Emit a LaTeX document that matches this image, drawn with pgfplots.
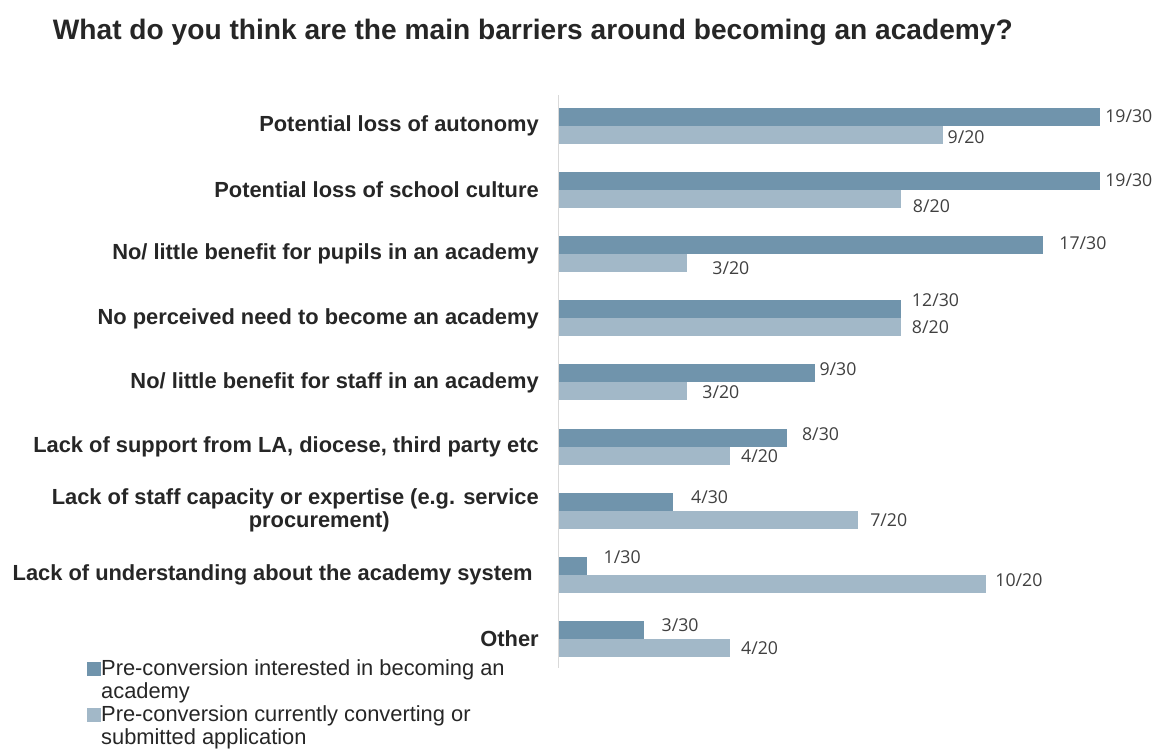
\documentclass[border=0pt]{standalone}
\usepackage{fontspec}
\setmainfont{Liberation Sans}
\newfontfamily\valfont{Open Sans}
\usepackage{pgfplots}
\pgfplotsset{compat=1.18}
\definecolor{darkbar}{HTML}{7094AC}
\definecolor{lightbar}{HTML}{A2B8C8}
\definecolor{txt}{HTML}{262626}
\definecolor{valtxt}{HTML}{404040}
\definecolor{axisgray}{HTML}{D9D9D9}

% one bar per \addplot so each value label can be nudged (xshift, yshift)
\pgfplotsset{
    dark/.style={fill=darkbar, draw=none, bar shift=6.75pt, forget plot},
    light/.style={fill=lightbar, draw=none, bar shift=-6.75pt, forget plot},
    lbl/.style 2 args={nodes near coords,
        every node near coord/.append style={xshift=#1, yshift=#2}},
}

\begin{document}
\begin{tikzpicture}
\begin{axis}[
    at={(419.25pt,60.75pt)}, anchor=south west,
    scale only axis,
    width=448.5pt, height=429.75pt,
    xbar, bar width=13.5pt,
    xmin=0, xmax=70,
    ymin=-0.453, ymax=8.484,
    axis x line=none,
    axis y line*=left,
    y axis line style={axisgray, line width=0.75pt},
    ytick={0,...,8},
    major tick length=0pt,
    yticklabels={
        Other,
        {Lack of understanding about the academy system\hspace*{4.5pt}},
        {Lack of staff capacity or expertise (e.g. service\\\hspace*{36pt}procurement)},
        {Lack of support from LA, diocese, third party etc},
        {No/ little benefit for staff in an academy},
        {No perceived need to become an academy},
        {No/ little benefit for pupils in an academy},
        {Potential loss of school culture},
        {Potential loss of autonomy}},
    yticklabel style={font=\fontsize{16.4}{17.25}\selectfont\bfseries, text=txt,
        align=center, inner sep=0pt, anchor=east, xshift=-15pt},
    point meta=explicit symbolic,
    every node near coord/.append style={font=\valfont\fontsize{13.3}{14}\selectfont,
        text=valtxt, anchor=west, inner sep=0pt},
    legend style={at={(-0.789,0.014)}, anchor=north west, draw=none, fill=none,
        inner sep=0pt, outer sep=0pt,
        font=\fontsize{16.4}{17.25}\selectfont, text=txt,
        row sep=1.25pt, column sep=0pt,
        nodes={inner sep=0pt, text height=12pt, text depth=4pt},
        /tikz/every even column/.append style={column sep=4pt}},
    legend cell align=left,
    legend image code/.code={\fill[#1] (0pt,-4pt) rectangle (10.5pt,6.5pt);},
]
% Pre-conversion interested in becoming an academy (n = 30), share in %
\addplot[dark, lbl={3.75pt}{0.75pt}]  coordinates {(63.33,8) [19/30]};
\addplot[dark, lbl={3.75pt}{0.75pt}]  coordinates {(63.33,7) [19/30]};
\addplot[dark, lbl={12pt}{1.5pt}]     coordinates {(56.67,6) [17/30]};
\addplot[dark, lbl={8.25pt}{6.75pt}]  coordinates {(40.00,5) [12/30]};
\addplot[dark, lbl={3pt}{3pt}]        coordinates {(30.00,4) [9/30]};
\addplot[dark, lbl={11.25pt}{2.25pt}] coordinates {(26.67,3) [8/30]};
\addplot[dark, lbl={13.5pt}{3.75pt}]  coordinates {(13.33,2) [4/30]};
\addplot[dark, lbl={12pt}{6.75pt}]    coordinates {(3.33,1) [1/30]};
\addplot[dark, lbl={12.75pt}{3.75pt}] coordinates {(10.00,0) [3/30]};
% Pre-conversion currently converting or submitted application (n = 20)
\addplot[light, lbl={3pt}{-1.5pt}]    coordinates {(45,8) [9/20]};
\addplot[light, lbl={9pt}{-5.25pt}]   coordinates {(40,7) [8/20]};
\addplot[light, lbl={18.75pt}{-3.75pt}] coordinates {(15,6) [3/20]};
\addplot[light, lbl={8.25pt}{0pt}]    coordinates {(40,5) [8/20]};
\addplot[light, lbl={11.25pt}{-0.75pt}] coordinates {(15,4) [3/20]};
\addplot[light, lbl={8.25pt}{-0.75pt}] coordinates {(20,3) [4/20]};
\addplot[light, lbl={9pt}{0pt}]       coordinates {(35,2) [7/20]};
\addplot[light, lbl={6.75pt}{3pt}]    coordinates {(50,1) [10/20]};
\addplot[light, lbl={8.25pt}{0pt}]    coordinates {(20,0) [4/20]};
\addlegendimage{fill=darkbar, draw=none}
\addlegendentry{Pre-conversion interested in becoming an}
\addlegendimage{empty legend}
\addlegendentry{academy}
\addlegendimage{fill=lightbar, draw=none}
\addlegendentry{Pre-conversion currently converting or}
\addlegendimage{empty legend}
\addlegendentry{submitted application}
\end{axis}
\node[anchor=base west, inner sep=0pt, text=txt, font=\fontsize{21.1}{25}\selectfont\bfseries]
    at (39.5pt,532.1pt) {What do you think are the main barriers around becoming an academy?};
\pgfresetboundingbox
\path (0,0) rectangle (870.75pt,561.75pt);
\end{tikzpicture}
\end{document}
